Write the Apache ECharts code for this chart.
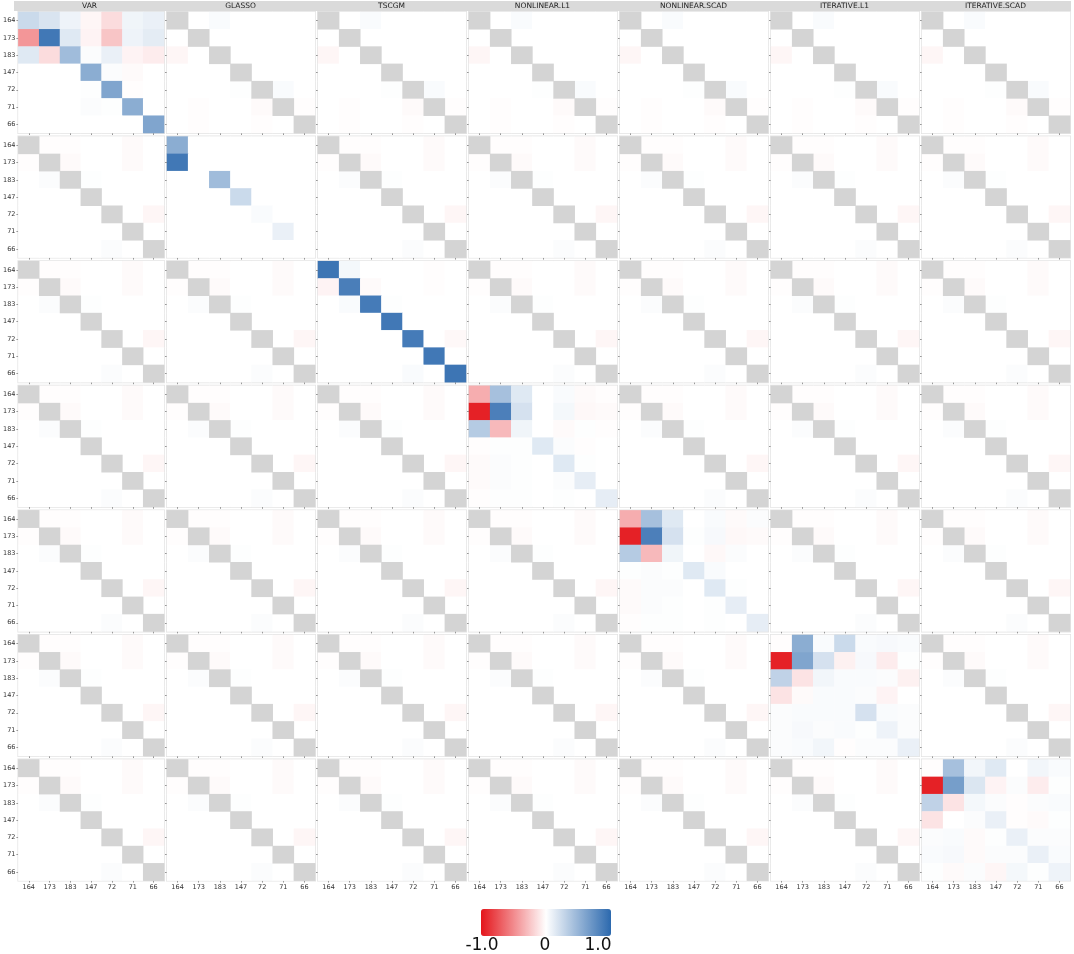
<!DOCTYPE html>
<html>
<head>
<meta charset="utf-8">
<script src="https://cdn.jsdelivr.net/npm/echarts@6/dist/echarts.min.js"></script>
<style>
  html, body { margin: 0; padding: 0; background: #fff; }
  #main { width: 1074px; height: 954px; }
</style>
</head>
<body>
<div id="main"></div>
<script>
var chart = echarts.init(document.getElementById('main'));

// node ids (rows / columns of every small matrix)
var nodes = ['164', '173', '183', '147', '72', '71', '66'];
// methods (panel columns and panel rows)
var methods = ['VAR', 'GLASSO', 'TSCGM', 'NONLINEAR.L1', 'NONLINEAR.SCAD', 'ITERATIVE.L1', 'ITERATIVE.SCAD'];

// estimates shown on the diagonal panels (row = y node, col = x node)
var estVAR = [
  [0.25, 0.18, 0.08, -0.04, -0.15, 0.07, 0.10],
  [-0.45, 0.90, 0.15, -0.05, -0.25, 0.08, 0.13],
  [0.15, -0.15, 0.45, 0.02, 0.10, -0.05, -0.08],
  [0, 0, 0, 0.55, 0.02, -0.02, 0],
  [0, 0, 0, 0.01, 0.60, -0.01, 0],
  [0, 0, 0, 0.02, 0.01, 0.55, 0],
  [0, 0, 0, 0, 0, 0, 0.60]
];
var estGLASSO = [
  [0.55, 0, 0, 0, 0, 0, 0],
  [0.90, 0, 0, 0, 0, 0, 0],
  [0, 0, 0.45, 0, 0, 0, 0],
  [0, 0, 0, 0.25, 0, 0, 0],
  [0, 0, 0, 0, 0.03, 0, 0],
  [0, 0, 0, 0, 0, 0.10, 0],
  [0, 0, 0, 0, 0, 0, 0]
];
var estTSCGM = [
  [0.92, 0.05, 0, 0, 0, -0.01, 0],
  [-0.05, 0.86, -0.02, 0, 0, -0.01, 0],
  [0, 0.03, 0.88, 0.01, 0, 0, 0],
  [0, 0, 0, 0.90, 0, 0, 0],
  [0, 0, 0, 0, 0.88, 0, -0.03],
  [0, 0, 0, 0, 0, 0.90, 0],
  [0, 0, 0, 0, 0.03, 0, 0.92]
];
var estNonlinL1 = [
  [-0.35, 0.42, 0.15, 0, 0.03, -0.02, -0.01],
  [-0.95, 0.85, 0.20, 0, 0.05, -0.03, -0.02],
  [0.35, -0.30, 0.07, 0, -0.02, 0.01, -0.01],
  [-0.01, 0.01, 0.01, 0.15, 0.02, -0.01, 0],
  [-0.02, 0.02, 0.01, 0, 0.15, 0.01, 0],
  [-0.02, 0.02, 0.01, 0, 0.02, 0.12, 0],
  [-0.01, 0.01, 0.01, 0, 0.01, 0, 0.12]
];
var estNonlinSCAD = [
  [-0.35, 0.42, 0.15, 0, 0.03, -0.02, 0.02],
  [-0.95, 0.85, 0.20, 0.01, 0.04, -0.03, -0.02],
  [0.35, -0.30, 0.07, 0, -0.03, 0.02, 0],
  [0.01, 0.02, 0.01, 0.15, 0.03, 0, 0],
  [-0.02, 0.02, 0.02, 0, 0.15, 0.01, 0],
  [-0.02, 0.02, 0.01, 0, 0.01, 0.12, 0],
  [-0.01, 0.01, 0.01, 0, 0.01, 0, 0.12]
];
var estIterL1 = [
  [-0.01, 0.55, 0.03, 0.25, 0.03, 0.04, 0.03],
  [-0.95, 0.60, 0.20, -0.06, 0.04, -0.08, 0.01],
  [0.30, -0.12, 0.06, 0.03, 0.03, 0.02, -0.06],
  [-0.12, -0.02, 0.03, 0.03, 0.02, -0.05, 0],
  [0.02, 0.03, 0.03, 0.03, 0.20, 0.03, 0.02],
  [0.02, 0.04, 0.02, 0.03, 0.01, 0.08, 0.02],
  [0.02, 0.03, 0.06, -0.01, 0.02, 0.02, 0.10]
];
var estIterSCAD = [
  [-0.01, 0.42, 0.06, 0.15, 0, 0.06, 0.03],
  [-0.95, 0.65, 0.17, -0.05, 0.02, -0.08, 0.01],
  [0.30, -0.12, 0.05, 0.02, -0.01, 0.02, 0.03],
  [-0.12, 0, 0.02, 0.10, -0.01, -0.02, 0.01],
  [0.02, 0.03, -0.02, 0.01, 0.10, 0.02, 0.02],
  [0.03, 0.04, -0.02, 0.02, 0.02, 0.10, 0.03],
  [0.01, -0.02, 0.02, -0.04, 0.05, 0.01, 0.08]
];
var estimates = [estVAR, estGLASSO, estTSCGM, estNonlinL1, estNonlinSCAD, estIterL1, estIterSCAD];

// off-diagonal panels (null = not available, drawn grey)
var offRow1 = [
  [null, 0, 0.03, 0, 0, 0, 0],
  [0, null, 0, 0, 0, 0, 0],
  [-0.04, 0, null, 0, 0, 0, 0],
  [0, 0, 0, null, 0, 0, 0],
  [0, 0, 0, 0.01, null, 0.03, 0],
  [0, -0.01, 0, 0, -0.02, null, -0.01],
  [0, -0.01, 0, 0, -0.01, 0, null]
];
var offRowOther = [
  [null, -0.01, -0.01, 0, 0, -0.02, 0],
  [-0.01, null, -0.02, 0, 0, -0.02, 0],
  [0, 0.02, null, 0.01, 0, 0, 0],
  [0, 0, 0, null, 0, 0, 0],
  [0, 0, 0, 0, null, 0, -0.04],
  [0, 0, 0, 0, 0, null, 0],
  [0, 0, 0, 0, 0.02, 0, null]
];

// colorbar tick labels
var barTicks = ['-1.0', '0', '1.0'];

// layout
var left0 = 16, top0 = 12, pitchX = 151, pitchY = 124.6, panelW = 148, panelH = 121;
var naColor = '#d4d4d4';
var font = 'DejaVu Sans';

var grids = [], xAxes = [], yAxes = [], series = [], valueIdx = [], graphics = [];

for (var r = 0; r < 7; r++) {
  for (var c = 0; c < 7; c++) {
    var g = r * 7 + c;
    grids.push({
      left: left0 + c * pitchX,
      top: top0 + r * pitchY,
      width: panelW,
      height: panelH,
      show: true,
      backgroundColor: '#fff',
      borderColor: '#e4e4e4',
      borderWidth: 2
    });
    xAxes.push({
      type: 'category', gridIndex: g, data: nodes,
      axisLine: { show: false },
      axisTick: { show: true, alignWithLabel: true, length: 2, lineStyle: { color: '#999' } },
      axisLabel: { show: r === 6, fontSize: 6.5, color: '#333', fontFamily: font, margin: 3 },
      splitLine: { show: false }
    });
    yAxes.push({
      type: 'category', gridIndex: g, data: nodes, inverse: true,
      axisLine: { show: false },
      axisTick: { show: true, alignWithLabel: true, length: 2, lineStyle: { color: '#999' } },
      axisLabel: { show: c === 0, fontSize: 6.5, color: '#333', fontFamily: font, margin: 3 },
      splitLine: { show: false }
    });

    var m = r === c ? estimates[r] : (r === 0 ? offRow1 : offRowOther);
    var vals = [], nas = [];
    for (var i = 0; i < 7; i++) {
      for (var j = 0; j < 7; j++) {
        if (m[i][j] === null) nas.push([j, i, 0]);
        else vals.push([j, i, m[i][j]]);
      }
    }
    valueIdx.push(series.length);
    series.push({
      type: 'heatmap', xAxisIndex: g, yAxisIndex: g, data: vals,
      silent: true, emphasis: { disabled: true }
    });
    if (nas.length) {
      series.push({
        type: 'heatmap', xAxisIndex: g, yAxisIndex: g, data: nas,
        silent: true, emphasis: { disabled: true },
        itemStyle: { color: naColor }
      });
    }
  }
}

// strip headers on the top row
for (var k = 0; k < 7; k++) {
  var x0 = left0 + k * pitchX - 2;
  graphics.push({
    type: 'rect', silent: true,
    shape: { x: x0, y: 1, width: panelW + 3, height: 10 },
    style: { fill: '#dadada' }
  });
  graphics.push({
    type: 'text', silent: true,
    x: x0 + (panelW + 3) / 2, y: 6.5,
    style: { text: methods[k], fontSize: 7.5, fontFamily: font, fill: '#222', align: 'center', verticalAlign: 'middle' }
  });
}

// colorbar labels and small tick marks
var barLeft = 481, barTop = 909, barW = 130, barH = 27;
var tickX = [482, 545, 598];
for (var t = 0; t < barTicks.length; t++) {
  graphics.push({
    type: 'text', silent: true,
    x: tickX[t], y: 946,
    style: { text: barTicks[t], fontSize: 17, fontFamily: font, fill: '#111', align: 'center', verticalAlign: 'middle' }
  });
}
[577, 607].forEach(function (px) {
  graphics.push({ type: 'line', silent: true, shape: { x1: px, y1: barTop, x2: px, y2: barTop + 4 }, style: { stroke: '#fff', lineWidth: 1 } });
  graphics.push({ type: 'line', silent: true, shape: { x1: px, y1: barTop + barH - 4, x2: px, y2: barTop + barH }, style: { stroke: '#fff', lineWidth: 1 } });
});

var option = {
  backgroundColor: '#fff',
  animation: false,
  grid: grids,
  xAxis: xAxes,
  yAxis: yAxes,
  visualMap: {
    type: 'continuous',
    min: -1, max: 1,
    seriesIndex: valueIdx,
    orient: 'horizontal',
    calculable: false,
    hoverLink: false,
    left: barLeft, top: barTop,
    itemWidth: barH, itemHeight: barW,
    padding: 0,
    text: null,
    inRange: { color: ['#e4151b', '#ffffff', '#2c69ae'] }
  },
  graphic: graphics,
  series: series
};

chart.setOption(option);
</script>
</body>
</html>
